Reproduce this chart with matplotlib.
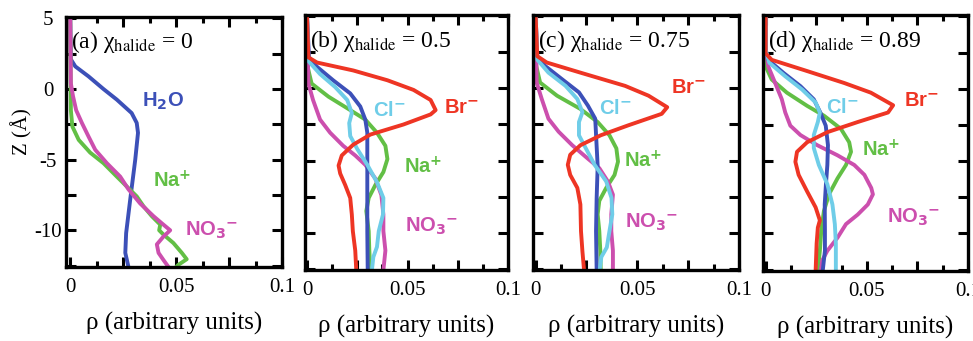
import numpy as np
import matplotlib
matplotlib.use("Agg")
import matplotlib.pyplot as plt
from matplotlib.ticker import MultipleLocator, FuncFormatter

plt.rcParams['font.family'] = ['Liberation Serif', 'DejaVu Serif']
plt.rcParams['mathtext.fontset'] = 'stix'

# colours of the species
c_h2o = '#3c50b8'
c_na = '#62bf45'
c_no3 = '#cc4fae'
c_cl = '#6fcde8'
c_br = '#ee3524'

# ---- panel (a): chi_halide = 0 ----
z_a_h2o = [5.0, 2.1, 1.6, 0.9, 0.0, -0.75, -1.7, -2.4, -3.1, -5.0, -7.85, -10.2, -11.6, -12.6]
rho_a_h2o = [0.0, 0.0003, 0.0024, 0.0086, 0.0157, 0.022, 0.029, 0.0314, 0.032, 0.0307, 0.0283, 0.0264, 0.026, 0.0275]
z_a_na = [5.0, -1.5, -2.65, -3.6, -4.5, -5.25, -6.2, -6.9, -7.6, -8.3, -9.0, -9.6, -10.0, -10.3, -10.9, -11.6, -12.05, -12.45, -12.6]
rho_a_na = [0.0, 0.0003, 0.001, 0.004, 0.0094, 0.0157, 0.022, 0.0267, 0.0314, 0.0346, 0.0385, 0.0425, 0.042, 0.044, 0.0487, 0.0527, 0.055, 0.051, 0.050]
z_a_no3 = [5.0, 0.4, -0.5, -1.5, -2.4, -3.35, -4.3, -5.25, -6.2, -7.1, -8.1, -9.0, -9.5, -10.0, -10.45, -11.0, -11.6, -12.1, -12.6]
rho_a_no3 = [0.0, 0.0003, 0.0013, 0.0028, 0.0055, 0.0086, 0.0118, 0.0173, 0.0236, 0.0275, 0.033, 0.0393, 0.0432, 0.0472, 0.044, 0.0409, 0.0417, 0.044, 0.0464]

# ---- panel (b): chi_halide = 0.5 ----
z_b_br = [5.0, 2.16, 1.8, 1.25, 0.57, -0.1, -0.8, -1.5, -1.8, -2.5, -3.2, -3.9, -4.65, -5.35, -5.9, -6.7, -7.6, -8.75, -9.9, -11.25, -12.6]
rho_b_br = [0.0, 0.0007, 0.005, 0.023, 0.040, 0.053, 0.0615, 0.064, 0.0615, 0.048, 0.0315, 0.023, 0.0173, 0.0157, 0.0165, 0.019, 0.0215, 0.0223, 0.0228, 0.024, 0.0245]
z_b_h2o = [5.0, 2.16, 1.5, 0.57, -0.34, -1.25, -2.16, -3.07, -5.3, -7.6, -9.9, -12.6]
rho_b_h2o = [0.0, 0.001, 0.005, 0.013, 0.0215, 0.0265, 0.029, 0.030, 0.030, 0.030, 0.030, 0.0302]
z_b_cl = [5.0, 1.9, 1.0, 0.1, -0.8, -1.7, -2.4, -3.3, -4.2, -5.3, -6.5, -7.6, -8.75, -9.9, -11.0, -11.7, -12.6]
rho_b_cl = [0.0, 0.0007, 0.0065, 0.014, 0.020, 0.0223, 0.021, 0.0215, 0.025, 0.030, 0.0348, 0.038, 0.0378, 0.0357, 0.0348, 0.033, 0.0323]
z_b_na = [5.0, 1.5, 0.34, -0.57, -1.5, -2.16, -3.07, -3.98, -4.9, -5.8, -6.7, -7.6, -8.5, -9.9, -11.25, -12.6]
rho_b_na = [0.0, 0.0003, 0.0023, 0.0107, 0.0215, 0.029, 0.0348, 0.039, 0.040, 0.038, 0.034, 0.0307, 0.0295, 0.0307, 0.031, 0.0315]
z_b_no3 = [5.0, 0.34, -0.8, -2.16, -3.07, -3.98, -4.65, -5.3, -6.25, -7.4, -8.75, -9.9, -11.25, -12.6]
rho_b_no3 = [0.0, 0.0007, 0.003, 0.0065, 0.0115, 0.018, 0.024, 0.029, 0.034, 0.037, 0.038, 0.038, 0.039, 0.038]

# ---- panel (c): chi_halide = 0.75 ----
z_c_br = [5.0, 2.24, 1.8, 1.1, 0.18, -0.5, -1.3, -1.76, -2.56, -3.25, -3.94, -4.6, -5.3, -6.0, -6.9, -8.05, -9.9, -11.3, -12.6]
rho_c_br = [0.0, 0.0008, 0.0055, 0.022, 0.044, 0.0555, 0.0647, 0.062, 0.0455, 0.032, 0.022, 0.017, 0.0158, 0.017, 0.0205, 0.022, 0.0223, 0.023, 0.0238]
z_c_h2o = [5.0, 2.24, 1.56, 0.64, -0.27, -1.19, -2.1, -5.4, -7.6, -9.9, -12.6]
rho_c_h2o = [0.0, 0.0008, 0.0047, 0.013, 0.0213, 0.0257, 0.0293, 0.0305, 0.030, 0.0297, 0.030]
z_c_cl = [5.0, 2.0, 1.1, 0.18, -0.73, -1.65, -2.33, -3.25, -4.16, -5.3, -6.45, -7.6, -8.74, -9.9, -11.03, -11.7, -12.6]
rho_c_cl = [0.0, 0.0008, 0.0063, 0.0147, 0.0205, 0.023, 0.0213, 0.0213, 0.0247, 0.029, 0.0347, 0.0373, 0.0377, 0.0363, 0.035, 0.0323, 0.0315]
z_c_na = [5.0, 1.56, 0.41, -0.5, -1.42, -2.33, -3.25, -4.16, -5.08, -6.0, -6.9, -7.8, -8.74, -9.9, -11.26, -12.6]
rho_c_na = [0.0, 0.0003, 0.0022, 0.0105, 0.022, 0.0305, 0.0363, 0.0397, 0.0405, 0.0388, 0.0347, 0.0313, 0.0305, 0.0313, 0.0318, 0.032]
z_c_no3 = [5.0, 0.41, -0.73, -2.1, -3.0, -3.94, -4.85, -5.53, -6.45, -7.37, -8.74, -9.9, -11.26, -12.6]
rho_c_no3 = [0.0, 0.0005, 0.003, 0.0063, 0.0113, 0.018, 0.0255, 0.0313, 0.0355, 0.038, 0.0372, 0.0372, 0.038, 0.038]

# ---- panel (d): chi_halide = 0.89 ----
z_d_br = [5.0, 2.45, 2.0, 1.3, 0.4, -0.27, -1.14, -1.64, -2.3, -3.0, -3.7, -4.36, -5.05, -5.95, -7.1, -8.2, -9.1, -9.6, -10.7, -12.6]
rho_d_br = [0.0, 0.0, 0.003, 0.0188, 0.0388, 0.052, 0.063, 0.0605, 0.0455, 0.0305, 0.0205, 0.0155, 0.0147, 0.0163, 0.0205, 0.0247, 0.0268, 0.0258, 0.0252, 0.0247]
z_d_h2o = [5.0, 2.7, 2.0, 1.1, 0.18, -0.73, -1.64, -2.55, -3.9, -5.27, -6.6, -8.0, -9.8, -11.2, -12.6]
rho_d_h2o = [0.0, 0.0, 0.0013, 0.0088, 0.0172, 0.0238, 0.027, 0.0297, 0.0308, 0.0305, 0.0298, 0.0292, 0.0293, 0.0293, 0.0282]
z_d_cl = [5.0, 2.7, 1.8, 0.86, -0.05, -0.95, -1.64, -2.3, -3.2, -4.1, -5.27, -6.6, -8.0, -9.36, -10.7, -12.6]
rho_d_cl = [0.0, 0.0, 0.0018, 0.0097, 0.018, 0.0247, 0.0268, 0.0258, 0.0238, 0.0238, 0.0263, 0.0305, 0.033, 0.0342, 0.0347, 0.0347]
z_d_na = [5.0, 1.55, 0.64, -0.27, -1.18, -1.86, -2.77, -3.7, -4.36, -5.27, -6.2, -7.3, -8.45, -9.8, -11.2, -12.6]
rho_d_na = [0.0, 0.0, 0.003, 0.0105, 0.0205, 0.0288, 0.0372, 0.0413, 0.0422, 0.0397, 0.0355, 0.0313, 0.0288, 0.0275, 0.0268, 0.0258]
z_d_no3 = [5.0, 2.7, 1.55, 0.4, -0.73, -1.64, -2.55, -3.2, -3.9, -4.6, -5.27, -5.95, -6.86, -7.3, -8.0, -8.7, -9.36, -10.3, -11.2, -11.86, -12.6]
rho_d_no3 = [0.0, 0.0, 0.0013, 0.0047, 0.008, 0.0097, 0.0122, 0.0172, 0.0255, 0.0355, 0.0438, 0.0488, 0.0522, 0.053, 0.0505, 0.0455, 0.0397, 0.0355, 0.0305, 0.028, 0.0272]

titles = ['(a)', '(b)', '(c)', '(d)']
chi_values = ['0', '0.5', '0.75', '0.89']

W, H = 973, 341
fig = plt.figure(figsize=(W / 100, H / 100), dpi=100)

# axes boxes in pixels: left, right, top, bottom
boxes = [(66, 282, 17, 267), (305, 508, 15, 270), (533, 739, 15, 270), (763, 968, 15, 271)]
xmins = [-0.002, -0.001, -0.0013, -0.0013]


def xfmt(v, pos):
    if abs(v) < 1e-9:
        return '0'
    if abs(v - 0.05) < 1e-9:
        return '0.05'
    if abs(v - 0.1) < 1e-9:
        return '0.1'
    return ''


def yfmt(v, pos):
    if abs(v / 5 - round(v / 5)) < 1e-9:
        return '%d' % round(v)
    return ''


axes = []
for i, (l, r, t, b) in enumerate(boxes):
    ax = fig.add_axes([l / W, 1 - b / H, (r - l) / W, (b - t) / H])
    ax.set_xlim(xmins[i], 0.1)
    ax.set_ylim(-12.6, 5.1)
    ax.xaxis.set_major_locator(MultipleLocator(0.025))
    ax.xaxis.set_minor_locator(MultipleLocator(0.0125))
    ax.xaxis.set_major_formatter(FuncFormatter(xfmt))
    ax.yaxis.set_major_locator(MultipleLocator(2.5))
    ax.yaxis.set_major_formatter(FuncFormatter(yfmt))
    ax.tick_params(which='both', direction='in', top=True, right=True, width=2.2)
    ax.tick_params(which='major', length=7, labelsize=15)
    ax.tick_params(which='minor', length=4.5)
    ax.tick_params(axis='x', pad=8)
    ax.tick_params(axis='y', pad=13)
    for sp in ax.spines.values():
        sp.set_linewidth(2.4)
    if i > 0:
        ax.tick_params(axis='y', labelleft=False)
    else:
        for lab in ax.get_yticklabels():
            lab.set_horizontalalignment('center')
    ax.set_xlabel('ρ (arbitrary units)', fontsize=18, labelpad=11)
    ax.text(0.025, 0.875, titles[i] + r' χ$_{\mathrm{halide}}$ = ' + chi_values[i],
            transform=ax.transAxes, fontsize=17, va='baseline', ha='left')
    axes.append(ax)

lw = 2.8
lab_kw = dict(fontsize=14.5, fontweight='bold', family=['Liberation Sans', 'DejaVu Sans'],
              math_fontfamily='dejavusans', ha='center', va='center')
no3_label = r'NO$_\mathbf{3}{}^\mathbf{-}$'

# (a)
ax = axes[0]
ax.plot(rho_a_h2o, z_a_h2o, color=c_h2o, lw=lw)
ax.plot(rho_a_na, z_a_na, color=c_na, lw=lw)
ax.plot(rho_a_no3, z_a_no3, color=c_no3, lw=lw)
ax.text(0.044, -0.9, r'H$_\mathbf{2}$O', color=c_h2o, **lab_kw)
ax.text(0.048, -6.5, r'Na$^\mathbf{+}$', color=c_na, **lab_kw)
ax.text(0.067, -10.0, no3_label, color=c_no3, **lab_kw)

# (b), (c), (d)
panel_data = [
    (z_b_h2o, rho_b_h2o, z_b_na, rho_b_na, z_b_no3, rho_b_no3, z_b_cl, rho_b_cl, z_b_br, rho_b_br),
    (z_c_h2o, rho_c_h2o, z_c_na, rho_c_na, z_c_no3, rho_c_no3, z_c_cl, rho_c_cl, z_c_br, rho_c_br),
    (z_d_h2o, rho_d_h2o, z_d_na, rho_d_na, z_d_no3, rho_d_no3, z_d_cl, rho_d_cl, z_d_br, rho_d_br),
]
# label positions (rho, Z) for Cl, Br, Na, NO3
label_pos = [
    [(0.041, -1.5), (0.077, -1.3), (0.058, -5.4), (0.062, -9.6)],
    [(0.039, -1.4), (0.075, 0.1), (0.053, -5.0), (0.057, -9.3)],
    [(0.038, -1.3), (0.077, -0.8), (0.057, -4.2), (0.073, -8.9)],
]
for k in range(3):
    ax = axes[k + 1]
    zh, rh, zn, rn, zo, ro, zc, rc, zb, rb = panel_data[k]
    ax.plot(rn, zn, color=c_na, lw=lw)
    ax.plot(ro, zo, color=c_no3, lw=lw)
    ax.plot(rh, zh, color=c_h2o, lw=lw)
    ax.plot(rc, zc, color=c_cl, lw=lw)
    ax.plot(rb, zb, color=c_br, lw=lw)
    (xc, yc), (xb, yb), (xn, yn), (xo, yo) = label_pos[k]
    ax.text(xc, yc, r'Cl$^\mathbf{-}$', color=c_cl, **lab_kw)
    ax.text(xb, yb, r'Br$^\mathbf{-}$', color=c_br, **lab_kw)
    ax.text(xn, yn, r'Na$^\mathbf{+}$', color=c_na, **lab_kw)
    ax.text(xo, yo, no3_label, color=c_no3, **lab_kw)

fig.text(22 / W, 1 - 132 / H, 'Z (Å)', rotation=90, fontsize=15, ha='center', va='center')

fig.savefig('out.png', dpi=100)
